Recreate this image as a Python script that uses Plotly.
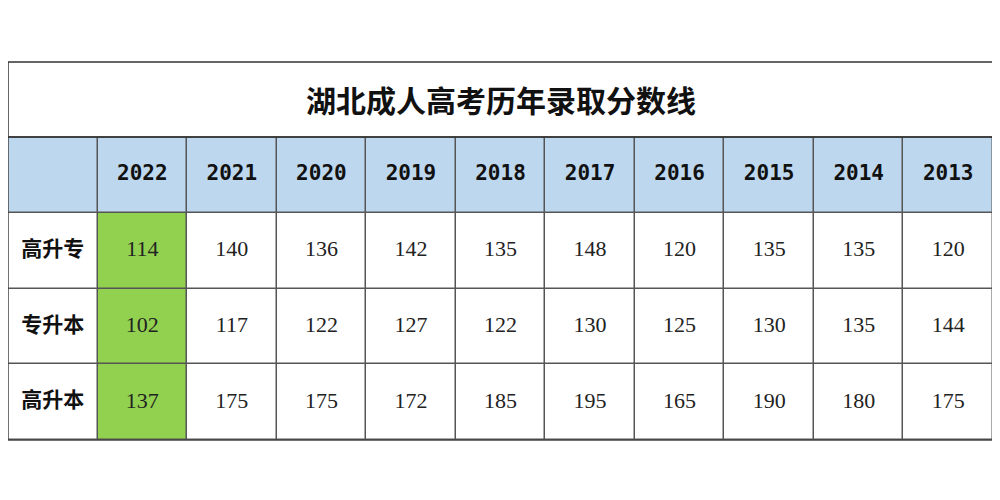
import plotly.graph_objects as go

title = "湖北成人高考历年录取分数线"
years = ["2022", "2021", "2020", "2019", "2018", "2017", "2016", "2015", "2014", "2013"]
levels = ["高升专", "专升本", "高升本"]
gaozhuan = [114, 140, 136, 142, 135, 148, 120, 135, 135, 120]
zhuanben = [102, 117, 122, 127, 122, 130, 125, 130, 135, 144]
gaoben = [137, 175, 175, 172, 185, 195, 165, 190, 180, 175]

rows = [gaozhuan, zhuanben, gaoben]
ncol = len(years) + 1

# cell colour codes: 0 white, 1 header blue, 2 highlight green
z = [[1] * ncol]
for r in rows:
    z.append([0, 2] + [0] * (len(years) - 1))

fig = go.Figure()
fig.add_trace(go.Heatmap(
    z=z, x=list(range(ncol)), y=list(range(4)),
    colorscale=[[0, "white"], [0.5, "#bdd7ee"], [1, "#92d050"]], zmin=0, zmax=2,
    showscale=False, xgap=1.5, ygap=1.5, hoverinfo="skip",
))

# header years
fig.add_trace(go.Scatter(
    x=list(range(1, ncol)), y=[0] * len(years), mode="text",
    text=[f"<b>{y}</b>" for y in years],
    textfont=dict(family="DejaVu Sans Mono", size=21, color="#111111"),
    hoverinfo="skip",
))
# row labels
fig.add_trace(go.Scatter(
    x=[0] * len(levels), y=[1, 2, 3], mode="text",
    text=[f"<b>{l}</b>" for l in levels],
    textfont=dict(family="Noto Sans CJK SC", size=21, color="#111111"),
    hoverinfo="skip",
))
# values
xs, ys, ts = [], [], []
for i, r in enumerate(rows):
    for j, v in enumerate(r):
        xs.append(j + 1)
        ys.append(i + 1)
        ts.append(str(v))
fig.add_trace(go.Scatter(
    x=xs, y=ys, mode="text", text=ts,
    textfont=dict(family="Liberation Serif", size=22, color="#222222"),
    hoverinfo="skip",
))

# outer border and title box
fig.add_shape(type="rect", xref="paper", yref="paper", x0=0, x1=1, y0=0, y1=1,
              line=dict(color="#444444", width=1.5))
fig.add_shape(type="rect", xref="paper", yref="paper", x0=0, x1=1, y0=1, y1=1.2475,
              line=dict(color="#333333", width=1.5))
fig.add_annotation(text=f"<b>{title}</b>", xref="paper", yref="paper", x=0.5, y=1.124,
                   xanchor="center", yanchor="middle", showarrow=False,
                   font=dict(family="Noto Sans CJK SC", size=30, color="#111111"))

fig.update_xaxes(range=[-0.5, ncol - 0.5], visible=False, fixedrange=True)
fig.update_yaxes(range=[3.5, -0.5], visible=False, fixedrange=True)
fig.update_layout(width=992, height=492, margin=dict(l=0, r=7, t=129, b=60),
                  paper_bgcolor="white", plot_bgcolor="#555555", showlegend=False)
fig.write_html("out.html")
